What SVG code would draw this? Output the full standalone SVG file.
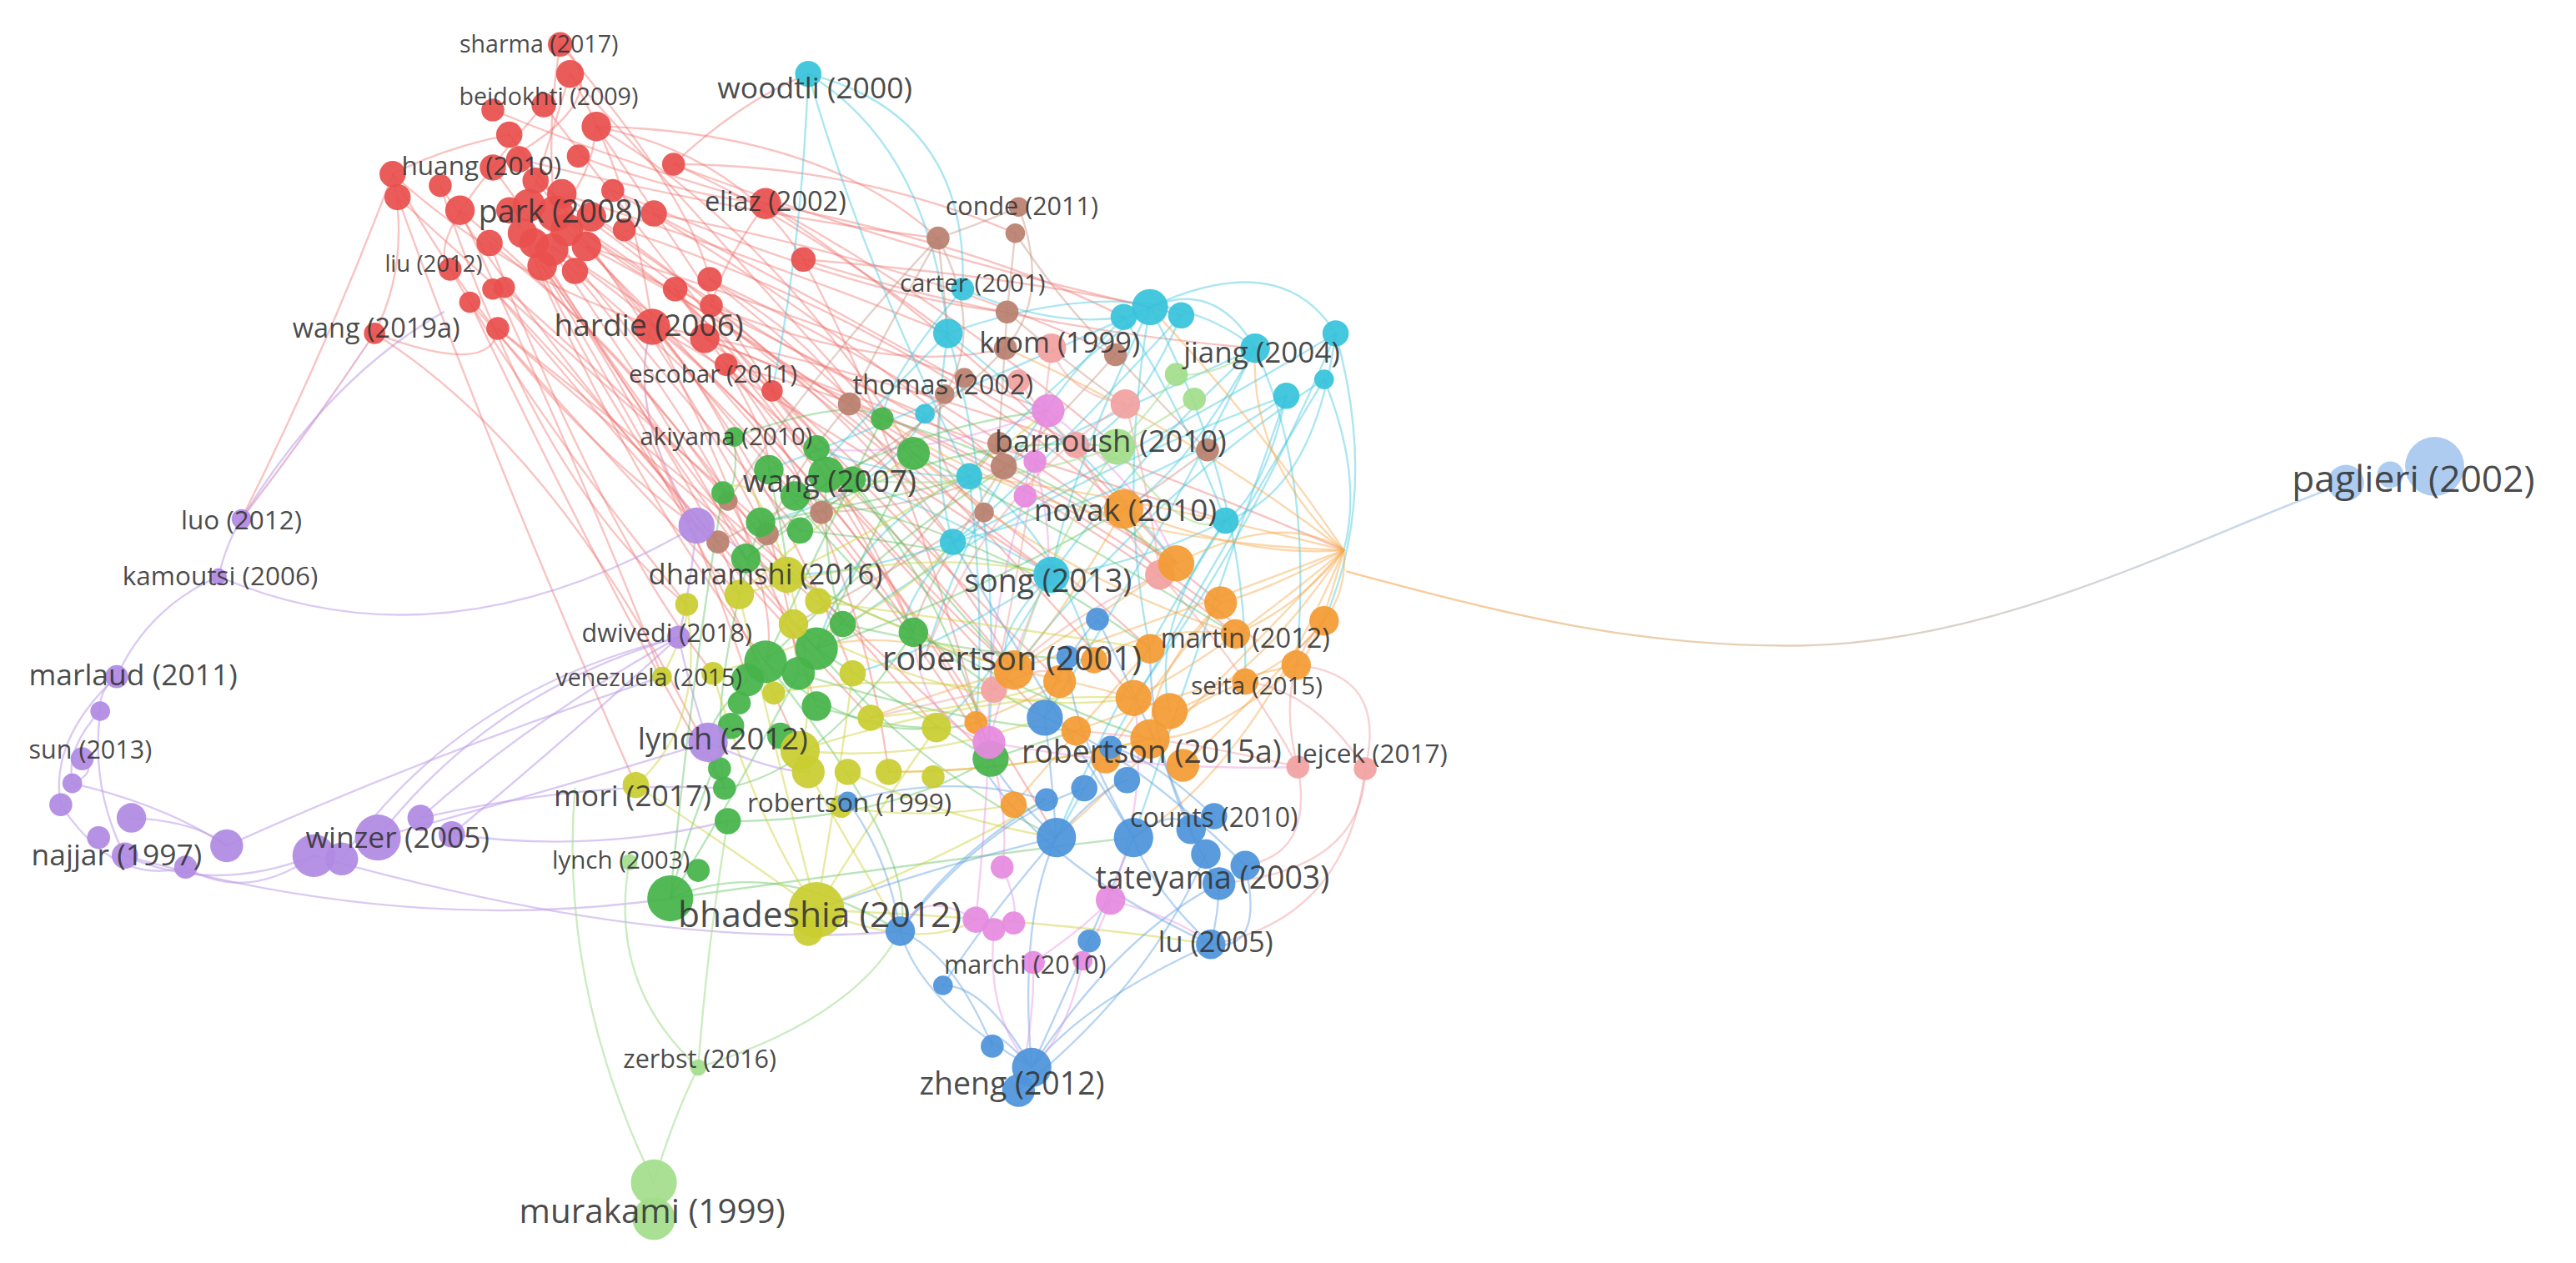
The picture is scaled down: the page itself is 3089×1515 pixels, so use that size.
<svg xmlns="http://www.w3.org/2000/svg" width="3089" height="1515" viewBox="0 0 3089 1515">
<style>
.e path{fill:none;stroke-width:1.2;stroke-linecap:round}
.er path{stroke:#ee6f6b;stroke-opacity:.42}
.erp{stroke:#d68fb6 !important;stroke-opacity:.6 !important}
.ec path{stroke:#45c8de;stroke-opacity:.45}
.eb path{stroke:#c0907f;stroke-opacity:.42}
.es path{stroke:#f2a3a3;stroke-opacity:.5}
.eg path{stroke:#52bb52;stroke-opacity:.4}
.ey path{stroke:#cfd23c;stroke-opacity:.48}
.eo path{stroke:#f6a84c;stroke-opacity:.45}
.eu path{stroke:#5f9fe0;stroke-opacity:.45}
.ek path{stroke:#e794df;stroke-opacity:.45}
.ep path{stroke:#bb9ce8;stroke-opacity:.55}
.el path{stroke:#a8e098;stroke-opacity:.6}
.n circle{fill-opacity:.93}
.red circle{fill:#e8504d}
.cyan circle{fill:#37c3dc}
.brown circle{fill:#b9806f}
.green circle{fill:#45b449}
.lgreen circle{fill:#a2de8c}
.purple circle{fill:#b08ae3}
.yellow circle{fill:#c9cd30}
.orange circle{fill:#f39b34}
.blue circle{fill:#4c93da}
.pink circle{fill:#e68ae0}
.salmon circle{fill:#f2a1a1}
.pale circle{fill:#a8c8ee}
text{font-family:"Open Sans","Liberation Sans",sans-serif;fill:#333;fill-opacity:.9;dominant-baseline:central;text-anchor:middle}
</style>
<defs>
<linearGradient id="gp" gradientUnits="userSpaceOnUse" x1="820" y1="350" x2="1428" y2="294">
<stop offset="0" stop-color="#f6a84c" stop-opacity=".6"/>
<stop offset="1" stop-color="#a8c8ee" stop-opacity=".7"/>
</linearGradient>
</defs>
<rect width="3089" height="1515" fill="#fff"/>
<g transform="scale(1.97)">
<g id="connectors" class="e">
<g class="er">
<path d="M341 27 Q332 80 338 130"/><path d="M347 45 Q385 110 397 198"/><path d="M363 77 Q420 160 470 238"/><path d="M363 77 Q470 140 556 276"/>
<path d="M338 130 Q430 180 519 292"/><path d="M338 130 Q470 220 590 290"/><path d="M280 128 Q390 220 479 350"/><path d="M336 150 Q470 230 617 408"/>
<path d="M357 150 Q480 190 638 250"/><path d="M330 162 Q410 270 455 414"/><path d="M318 142 Q370 250 424 320"/><path d="M239 106 Q310 170 397 198"/>
<path d="M242 120 Q340 210 463 318"/><path d="M268 113 Q350 240 497 395"/><path d="M410 100 Q480 130 577 203"/><path d="M410 100 Q540 150 700 187"/>
<path d="M466 124 Q570 180 680 272"/><path d="M466 124 Q610 220 716 343"/><path d="M489 158 Q620 200 764 212"/><path d="M432 170 Q560 270 690 425"/>
<path d="M411 176 Q500 270 556 385"/><path d="M397 198 Q520 270 640 350"/><path d="M397 198 Q600 240 818 335"/><path d="M429 206 Q560 300 617 408"/>
<path d="M429 206 Q560 260 746 317"/><path d="M442 222 Q520 320 541 470"/><path d="M300 176 Q370 250 437 330"/><path d="M286 184 Q380 290 450 362"/>
<path d="M228 203 Q350 280 441 480"/><path d="M303 200 Q420 300 513 380"/><path d="M310 82 Q360 160 411 176"/><path d="M300 67 Q380 100 466 124"/>
<path d="M316 97 Q450 130 571 145"/><path d="M363 77 Q450 95 489 158"/><path d="M373 116 Q500 190 612 285"/><path d="M398 130 Q530 200 655 271"/>
<path d="M357 150 Q530 240 700 395"/><path d="M342 118 Q470 160 577 203"/><path d="M318 142 Q380 290 466 403"/><path d="M489 158 Q550 270 603 462"/>
<path d="M433 186 Q540 230 612 212"/><path d="M298 148 Q380 210 440 300"/><path d="M352 95 Q420 120 462 123"/><path d="M300 102 Q260 150 274 164"/>
<path d="M274 164 Q330 260 418 368"/><path d="M228 203 Q300 230 303 200"/><path d="M239 106 Q250 160 228 203"/><path d="M397 198 Q470 280 486 410"/>
<path d="M432 170 Q500 210 517 246"/><path d="M470 238 Q520 300 556 385"/><path d="M411 176 Q470 260 468 286"/><path d="M442 222 Q600 260 765 390"/>
<path d="M336 150 Q500 260 643 510"/><path d="M397 198 Q520 300 602 452"/><path d="M410 100 Q450 62 492 45"/><path d="M300 102 Q380 60 341 27"/>
<path d="M331 64 Q300 100 300 102"/><path d="M310 82 Q270 90 239 106"/><path d="M363 77 Q360 110 338 130"/><path d="M466 124 Q440 160 433 186"/>
<path d="M347 45 Q450 160 537 255"/><path d="M331 64 Q420 180 497 273"/><path d="M310 82 Q400 200 463 318"/><path d="M316 97 Q420 230 484 302"/>
<path d="M300 102 Q400 240 454 340"/><path d="M322 125 Q420 250 487 323"/><path d="M342 118 Q480 210 580 330"/><path d="M360 132 Q480 220 563 252"/>
<path d="M373 116 Q520 180 613 190"/><path d="M398 130 Q560 160 679 216"/><path d="M336 150 Q450 280 497 430"/><path d="M357 150 Q460 260 519 410"/>
<path d="M330 162 Q430 300 450 362"/><path d="M318 142 Q430 330 487 457"/><path d="M298 148 Q370 330 434 410"/><path d="M280 128 Q360 300 403 412"/>
<path d="M268 113 Q330 300 418 368"/><path d="M242 120 Q300 280 387 478"/><path d="M239 106 Q320 250 437 330"/><path d="M300 176 Q420 320 530 437"/>
<path d="M307 175 Q450 300 570 443"/><path d="M286 184 Q380 380 441 480"/><path d="M303 200 Q470 330 603 462"/><path d="M411 176 Q560 250 716 343"/>
<path d="M432 170 Q600 250 743 367"/><path d="M429 206 Q620 280 752 386"/><path d="M466 124 Q600 150 684 193"/><path d="M489 158 Q640 170 719 192"/>
<path d="M410 100 Q520 100 618 142"/><path d="M363 77 Q500 80 571 145"/><path d="M470 238 Q560 330 645 415"/><path d="M442 222 Q560 360 636 437"/>
<path d="M397 198 Q480 360 466 403"/><path d="M433 186 Q560 290 640 350"/><path d="M411 176 Q530 330 617 408"/><path d="M341 27 Q420 120 432 170"/>
<path d="M347 45 Q330 100 322 125"/><path d="M326 110 Q450 200 568 300"/><path d="M345 140 Q470 260 556 385"/><path d="M310 128 Q410 280 480 362"/>
<path d="M325 148 Q440 330 497 395"/><path d="M350 165 Q500 290 603 462"/><path d="M380 140 Q560 200 684 310"/><path d="M239 106 Q200 210 147 316"/>
<path class="erp" d="M228 203 Q190 260 147 316"/><path class="erp" d="M424 320 Q380 250 397 198"/>
</g>
<g class="ec">
<path d="M492 45 Q488 150 470 238"/><path d="M492 45 Q565 90 577 203"/><path d="M492 45 Q525 160 590 290"/><path d="M492 45 Q590 70 586 176"/>
<path d="M700 187 Q620 250 590 290"/><path d="M700 187 Q650 290 640 350"/><path d="M764 212 Q690 280 640 350"/><path d="M764 212 Q700 340 636 437"/>
<path d="M813 203 Q760 330 690 425"/><path d="M813 203 Q800 300 746 317"/><path d="M806 231 Q740 340 643 510"/><path d="M783 241 Q700 300 580 330"/>
<path d="M783 241 Q770 300 746 317"/><path d="M684 193 Q600 280 563 400"/><path d="M719 192 Q690 260 655 271"/><path d="M577 203 Q565 280 580 330"/>
<path d="M577 203 Q520 260 484 302"/><path d="M577 203 Q650 260 716 343"/><path d="M746 317 Q690 345 640 350"/><path d="M580 330 Q520 350 479 350"/>
<path d="M590 290 Q540 290 497 273"/><path d="M640 350 Q600 390 617 408"/><path d="M813 203 Q780 150 700 187"/><path d="M764 212 Q740 170 700 187"/>
<path d="M586 176 Q640 200 684 193"/><path d="M783 241 Q720 420 690 510"/><path d="M700 187 Q560 250 468 286"/><path d="M640 350 Q570 310 519 292"/>
<path d="M806 231 Q830 290 818 335"/><path d="M764 212 Q720 290 684 310"/><path d="M684 193 Q720 250 746 317"/><path d="M586 176 Q540 230 537 255"/>
<path d="M577 203 Q610 320 602 452"/><path d="M700 187 Q680 300 700 395"/><path d="M813 203 Q720 260 580 330"/><path d="M783 241 Q620 300 497 395"/>
<path d="M746 317 Q700 380 712 433"/><path d="M590 290 Q600 380 594 440"/><path d="M577 203 Q700 160 764 212"/><path d="M813 203 Q840 300 806 378"/>
<path d="M764 212 Q800 290 789 405"/><path d="M700 187 Q760 300 758 415"/><path d="M590 290 Q520 320 497 395"/><path d="M580 330 Q540 380 556 385"/>
<path d="M640 350 Q560 400 519 410"/><path d="M590 290 Q640 320 666 402"/><path d="M806 231 Q700 300 617 408"/><path d="M719 192 Q620 300 580 330"/>
<path d="M764 212 Q660 260 611 284"/><path d="M563 252 Q540 300 463 318"/><path d="M640 350 Q600 420 570 443"/><path d="M746 317 Q680 420 643 510"/>
</g>
<g class="eb">
<path d="M571 145 Q575 180 577 203"/><path d="M618 142 Q615 170 613 190"/><path d="M571 145 Q540 200 517 246"/><path d="M618 142 Q650 190 679 216"/>
<path d="M613 190 Q610 240 608 270"/><path d="M679 216 Q640 260 612 285"/><path d="M517 246 Q480 290 467 325"/><path d="M587 230 Q540 280 500 312"/>
<path d="M612 285 Q560 310 500 312"/><path d="M571 145 Q500 220 443 305"/><path d="M612 212 Q560 270 437 330"/><path d="M679 216 Q710 250 735 274"/>
<path d="M620 126 Q600 135 571 145"/><path d="M575 240 Q560 280 599 312"/><path d="M735 274 Q700 300 684 310"/><path d="M608 270 Q560 330 497 395"/>
<path d="M613 190 Q660 230 685 246"/><path d="M620 126 Q640 180 612 212"/><path d="M571 145 Q600 200 575 240"/><path d="M611 284 Q560 360 556 385"/>
<path d="M599 312 Q540 350 483 380"/><path d="M517 246 Q560 300 580 330"/>
</g>
<g class="es">
<path d="M790 467 Q775 410 806 378"/><path d="M831 468 Q845 410 789 405"/><path d="M790 467 Q800 520 758 527"/><path d="M831 468 Q830 530 742 538"/>
<path d="M685 246 Q700 300 706 350"/><path d="M706 350 Q760 410 790 467"/><path d="M655 271 Q680 320 706 350"/><path d="M640 212 Q650 240 685 246"/>
<path d="M620 232 Q640 260 655 271"/><path d="M605 420 Q640 400 645 415"/><path d="M605 420 Q560 430 530 437"/><path d="M640 212 Q630 300 605 420"/>
<path d="M790 467 Q720 450 655 445"/><path d="M831 468 Q820 560 737 575"/><path d="M831 468 Q800 420 758 415"/><path d="M685 246 Q600 300 563 400"/>
<path d="M706 350 Q640 380 605 420"/>
</g>
<g class="eg">
<path d="M537 255 Q500 330 466 403"/><path d="M556 276 Q520 350 497 395"/><path d="M468 286 Q480 340 479 350"/><path d="M497 273 Q570 340 603 462"/>
<path d="M454 340 Q520 370 556 385"/><path d="M497 395 Q550 430 603 462"/><path d="M463 318 Q430 420 441 480"/><path d="M440 300 Q420 420 408 547"/>
<path d="M486 410 Q450 480 408 547"/><path d="M556 385 Q500 470 441 480"/><path d="M603 462 Q540 500 443 500"/><path d="M466 403 Q520 450 570 443"/>
<path d="M519 292 Q570 360 617 408"/><path d="M484 302 Q600 320 700 395"/><path d="M537 255 Q630 280 716 343"/><path d="M445 442 Q420 500 408 547"/>
<path d="M556 276 Q660 330 752 386"/><path d="M468 286 Q560 400 636 437"/><path d="M505 292 Q560 260 638 250"/><path d="M505 292 Q470 330 454 340"/>
<path d="M447 266 Q450 300 440 300"/><path d="M503 289 Q500 340 513 380"/><path d="M497 430 Q560 450 594 440"/><path d="M455 414 Q430 440 431 452"/>
<path d="M603 462 Q640 450 655 445"/><path d="M408 547 Q470 520 548 567"/><path d="M408 547 Q600 520 690 510"/><path d="M497 395 Q600 360 684 310"/>
<path d="M466 403 Q540 330 612 285"/><path d="M454 340 Q560 260 680 272"/><path d="M556 385 Q640 430 700 450"/><path d="M447 266 Q520 240 537 255"/>
<path d="M487 323 Q560 330 640 350"/><path d="M463 318 Q560 300 590 290"/><path d="M497 395 Q560 470 643 510"/><path d="M466 403 Q560 520 548 567"/>
<path d="M513 380 Q600 400 666 402"/><path d="M486 410 Q580 440 655 445"/>
</g>
<g class="ey">
<path d="M479 350 Q500 420 487 457"/><path d="M450 362 Q470 450 497 554"/><path d="M434 410 Q460 500 497 554"/><path d="M519 410 Q510 480 497 554"/>
<path d="M570 443 Q530 500 497 554"/><path d="M387 478 Q450 520 497 554"/><path d="M479 350 Q560 390 617 408"/><path d="M418 368 Q430 440 387 478"/>
<path d="M530 437 Q600 430 645 415"/><path d="M487 457 Q560 465 636 437"/><path d="M516 470 Q580 500 643 510"/><path d="M498 366 Q600 380 700 395"/>
<path d="M483 380 Q600 440 690 425"/><path d="M541 470 Q620 470 700 450"/><path d="M479 350 Q460 280 440 300"/><path d="M450 362 Q520 300 556 276"/>
<path d="M403 412 Q420 380 418 368"/><path d="M492 470 Q520 520 548 567"/><path d="M497 554 Q560 580 594 560"/><path d="M497 554 Q580 520 636 487"/>
<path d="M471 422 Q540 410 605 420"/><path d="M512 491 Q560 500 617 490"/><path d="M497 554 Q640 560 737 575"/><path d="M479 350 Q580 300 638 250"/>
<path d="M450 362 Q560 330 640 350"/><path d="M487 457 Q600 420 690 425"/><path d="M434 410 Q540 380 580 330"/>
</g>
<g class="eo">
<path d="M818 335 Q770 360 743 367"/><path d="M818 335 Q790 370 752 386"/><path d="M818 335 Q800 400 789 405"/><path d="M818 335 Q760 420 712 433"/>
<path d="M818 335 Q740 400 690 425"/><path d="M818 335 Q700 380 617 408"/><path d="M818 335 Q780 310 716 343"/><path d="M716 343 Q660 380 617 408"/>
<path d="M743 367 Q700 410 700 450"/><path d="M806 378 Q760 430 720 466"/><path d="M789 405 Q740 450 700 450"/><path d="M617 408 Q680 420 712 433"/>
<path d="M666 402 Q700 380 752 386"/><path d="M655 445 Q720 420 789 405"/><path d="M617 490 Q660 440 700 395"/><path d="M818 335 Q680 300 590 290"/>
<path d="M818 335 Q720 260 612 212"/><path d="M617 408 Q560 425 530 437"/><path d="M752 386 Q640 350 556 276"/><path d="M684 310 Q700 340 716 343"/>
<path d="M684 310 Q650 370 617 408"/><path d="M818 335 Q760 340 684 310"/><path d="M818 335 Q760 280 764 212"/><path d="M806 378 Q820 360 818 335"/>
<path d="M758 415 Q790 400 806 378"/><path d="M758 415 Q720 430 700 450"/><path d="M594 440 Q640 420 645 415"/><path d="M673 462 Q700 420 743 367"/>
<path d="M818 335 Q700 460 643 510"/><path d="M818 335 Q760 470 690 510"/><path d="M818 335 Q650 330 537 255"/><path d="M818 335 Q760 250 700 187"/>
<path d="M617 408 Q540 380 497 395"/><path d="M700 450 Q620 470 541 470"/>
</g>
<path d="M820 348 C920 375 1000 395 1100 393 C1220 390 1330 330 1428 294" stroke="url(#gp)" stroke-width="1.6"/>
<g class="eu">
<path d="M628 650 Q620 560 643 510"/><path d="M628 650 Q660 580 690 510"/><path d="M628 650 Q600 600 574 600"/><path d="M604 637 Q580 580 548 567"/>
<path d="M620 664 Q700 600 734 520"/><path d="M628 650 Q680 570 742 538"/><path d="M737 575 Q700 540 690 510"/><path d="M737 575 Q742 555 742 538"/>
<path d="M643 510 Q670 480 686 475"/><path d="M636 437 Q640 470 643 510"/><path d="M690 510 Q715 490 725 505"/><path d="M548 567 Q580 520 636 487"/>
<path d="M548 567 Q600 500 660 480"/><path d="M636 437 Q690 460 758 527"/><path d="M668 377 Q640 410 636 437"/><path d="M628 650 Q560 610 548 567"/>
<path d="M574 600 Q600 560 643 510"/><path d="M737 575 Q660 610 628 650"/><path d="M690 510 Q650 440 650 400"/><path d="M725 505 Q700 440 668 377"/>
<path d="M739 497 Q700 460 676 455"/><path d="M643 510 Q600 470 594 440"/><path d="M516 488 Q580 470 636 487"/><path d="M548 567 Q540 520 516 488"/>
<path d="M758 527 Q770 580 737 575"/><path d="M604 637 Q600 620 628 650"/><path d="M643 510 Q560 530 497 554"/><path d="M737 575 Q640 530 600 470"/>
<path d="M690 510 Q640 430 580 330"/><path d="M742 538 Q700 470 700 395"/>
</g>
<g class="ek">
<path d="M638 250 Q625 280 624 302"/><path d="M602 452 Q615 500 610 528"/><path d="M594 560 Q600 500 602 452"/><path d="M629 586 Q660 565 676 548"/>
<path d="M659 585 Q670 565 676 548"/><path d="M638 350 Q615 400 602 452"/><path d="M624 302 Q600 380 602 452"/><path d="M610 528 Q620 550 617 562"/>
<path d="M602 452 Q700 470 790 467"/><path d="M638 250 Q700 300 716 343"/><path d="M630 281 Q640 320 638 350"/><path d="M676 548 Q700 480 690 425"/>
<path d="M605 566 Q600 620 628 650"/><path d="M629 586 Q630 620 620 664"/><path d="M659 585 Q650 630 628 650"/><path d="M602 452 Q560 440 556 385"/>
<path d="M594 560 Q560 540 548 567"/><path d="M676 548 Q720 560 737 575"/><path d="M638 250 Q560 280 497 273"/>
</g>
<g class="ep">
<path d="M424 320 Q270 410 133 351"/><path d="M147 316 Q138 330 133 351"/><path d="M133 351 Q90 370 71 412"/><path d="M71 412 Q60 420 61 433"/>
<path d="M61 433 Q40 455 44 477"/><path d="M71 412 Q30 450 37 490"/><path d="M61 433 Q55 480 76 521"/><path d="M413 388 Q300 420 230 510"/>
<path d="M413 388 Q320 440 256 498"/><path d="M413 388 Q345 450 275 508"/><path d="M413 388 Q280 420 208 523"/><path d="M80 498 Q120 500 138 515"/>
<path d="M76 521 Q130 545 191 521"/><path d="M113 528 Q150 550 191 521"/><path d="M44 477 Q100 490 138 515"/><path d="M230 510 Q340 480 431 452"/>
<path d="M256 498 Q360 475 441 480"/><path d="M191 521 Q400 580 548 567"/><path d="M76 521 Q250 570 408 547"/><path d="M138 515 Q260 460 403 412"/>
<path d="M431 452 Q420 420 413 388"/><path d="M424 320 Q420 360 413 388"/><path d="M37 490 Q70 540 113 528"/><path d="M275 508 Q360 520 443 500"/>
<path d="M50 462 Q60 470 44 477"/><path d="M424 320 Q450 330 454 340"/><path d="M431 452 Q470 470 492 470"/><path d="M147 316 Q200 230 270 190"/>
</g>
<g class="el">
<path d="M398 720 Q410 680 425 650"/><path d="M425 650 Q430 580 443 500"/><path d="M425 650 Q370 600 383 525"/><path d="M716 228 Q700 250 680 272"/>
<path d="M727 243 Q700 260 680 272"/><path d="M680 272 Q640 330 617 408"/><path d="M680 272 Q720 330 746 317"/><path d="M716 228 Q740 230 764 212"/>
<path d="M398 720 Q340 600 350 480"/><path d="M425 650 Q520 620 548 567"/><path d="M680 272 Q600 300 519 292"/>
</g>
</g>
<g id="nodes">
<g id="r2" class="n red"><circle cx="347" cy="45" r="8.5"/></g>
<g id="r3" class="n red"><circle cx="300" cy="67" r="7"/></g>
<g id="r5" class="n red"><circle cx="363" cy="77" r="9"/></g>
<g id="r6" class="n red"><circle cx="310" cy="82" r="8"/></g>
<g id="r7" class="n red"><circle cx="316" cy="97" r="8"/></g>
<g id="r8" class="n red"><circle cx="239" cy="106" r="8"/></g>
<g id="r9" class="n red"><circle cx="242" cy="120" r="8"/></g>
<g id="r10" class="n red"><circle cx="268" cy="113" r="7"/></g>
<g id="r11" class="n red"><circle cx="410" cy="100" r="7"/></g>
<g id="r12" class="n red"><circle cx="280" cy="128" r="9"/></g>
<g id="r40" class="n red"><circle cx="326" cy="110" r="8"/></g>
<g id="r41" class="n red"><circle cx="310" cy="128" r="8"/></g>
<g id="r14" class="n red"><circle cx="322" cy="125" r="10"/></g>
<g id="r15" class="n red"><circle cx="342" cy="118" r="9"/></g>
<g id="r16" class="n red"><circle cx="360" cy="132" r="9"/></g>
<g id="r17" class="n red"><circle cx="373" cy="116" r="7"/></g>
<g id="r18" class="n red"><circle cx="398" cy="130" r="8"/></g>
<g id="r19" class="n red"><circle cx="318" cy="142" r="9"/></g>
<g id="r42" class="n red"><circle cx="345" cy="140" r="10"/></g>
<g id="r43" class="n red"><circle cx="325" cy="148" r="9"/></g>
<g id="r20" class="n red"><circle cx="336" cy="152" r="10"/></g>
<g id="r21" class="n red"><circle cx="357" cy="150" r="9"/></g>
<g id="r44" class="n red"><circle cx="350" cy="165" r="8"/></g>
<g id="r22" class="n red"><circle cx="330" cy="162" r="9"/></g>
<g id="r23" class="n red"><circle cx="298" cy="148" r="8"/></g>
<g id="r45" class="n red"><circle cx="380" cy="140" r="7"/></g>
<g id="r25" class="n red"><circle cx="489" cy="158" r="7.5"/></g>
<g id="r26" class="n red"><circle cx="432" cy="170" r="7.5"/></g>
<g id="r27" class="n red"><circle cx="411" cy="176" r="7.5"/></g>
<g id="r28" class="n red"><circle cx="300" cy="176" r="6.5"/></g>
<g id="r29" class="n red"><circle cx="286" cy="184" r="6.5"/></g>
<g id="r30" class="n red"><circle cx="307" cy="175" r="6.5"/></g>
<g id="r32" class="n red"><circle cx="303" cy="200" r="7"/></g>
<g id="r34" class="n red"><circle cx="429" cy="206" r="9"/></g>
<g id="r36" class="n red"><circle cx="470" cy="238" r="6.5"/></g>
<g id="r37" class="n red"><circle cx="433" cy="186" r="7"/></g>
<g id="r39" class="n red"><circle cx="352" cy="95" r="7"/></g>
<g id="c3" class="n cyan"><circle cx="577" cy="203" r="9"/></g>
<g id="c4" class="n cyan"><circle cx="700" cy="187" r="11"/></g>
<g id="c5" class="n cyan"><circle cx="684" cy="193" r="8"/></g>
<g id="c6" class="n cyan"><circle cx="719" cy="192" r="8"/></g>
<g id="c8" class="n cyan"><circle cx="813" cy="203" r="8"/></g>
<g id="c9" class="n cyan"><circle cx="806" cy="231" r="6"/></g>
<g id="c10" class="n cyan"><circle cx="783" cy="241" r="8"/></g>
<g id="c11" class="n cyan"><circle cx="590" cy="290" r="8"/></g>
<g id="c12" class="n cyan"><circle cx="580" cy="330" r="8"/></g>
<g id="c14" class="n cyan"><circle cx="746" cy="317" r="8"/></g>
<g id="c15" class="n cyan"><circle cx="563" cy="252" r="6"/></g>
<g id="b1" class="n brown"><circle cx="571" cy="145" r="7"/></g>
<g id="b3" class="n brown"><circle cx="618" cy="142" r="6"/></g>
<g id="b4" class="n brown"><circle cx="613" cy="190" r="7"/></g>
<g id="b5" class="n brown"><circle cx="612" cy="212" r="7"/></g>
<g id="b6" class="n brown"><circle cx="679" cy="216" r="7"/></g>
<g id="b7" class="n brown"><circle cx="517" cy="246" r="7"/></g>
<g id="b8" class="n brown"><circle cx="587" cy="230" r="6"/></g>
<g id="b9" class="n brown"><circle cx="608" cy="270" r="7"/></g>
<g id="b10" class="n brown"><circle cx="611" cy="284" r="8"/></g>
<g id="b11" class="n brown"><circle cx="599" cy="312" r="6"/></g>
<g id="b12" class="n brown"><circle cx="437" cy="330" r="7"/></g>
<g id="b13" class="n brown"><circle cx="467" cy="325" r="7"/></g>
<g id="b14" class="n brown"><circle cx="500" cy="312" r="7"/></g>
<g id="b15" class="n brown"><circle cx="443" cy="305" r="6"/></g>
<g id="b16" class="n brown"><circle cx="735" cy="274" r="7"/></g>
<g id="s1" class="n salmon"><circle cx="685" cy="246" r="9"/></g>
<g id="s2" class="n salmon"><circle cx="620" cy="232" r="7"/></g>
<g id="s3" class="n salmon"><circle cx="655" cy="271" r="8"/></g>
<g id="s4" class="n salmon"><circle cx="706" cy="350" r="9"/></g>
<g id="s5" class="n salmon"><circle cx="605" cy="420" r="8"/></g>
<g id="s6" class="n salmon"><circle cx="790" cy="467" r="7"/></g>
<g id="lg1" class="n lgreen"><circle cx="716" cy="228" r="7"/></g>
<g id="lg2" class="n lgreen"><circle cx="727" cy="243" r="7"/></g>
<g id="lg5" class="n lgreen"><circle cx="398" cy="742" r="13"/></g>
<g id="g1" class="n green"><circle cx="537" cy="255" r="7"/></g>
<g id="g2" class="n green"><circle cx="556" cy="276" r="10"/></g>
<g id="g3" class="n green"><circle cx="497" cy="273" r="8"/></g>
<g id="g4" class="n green"><circle cx="468" cy="286" r="9"/></g>
<g id="g5" class="n green"><circle cx="519" cy="292" r="8"/></g>
<g id="g6" class="n green"><circle cx="484" cy="302" r="9"/></g>
<g id="g7" class="n green"><circle cx="440" cy="300" r="7"/></g>
<g id="g8" class="n green"><circle cx="463" cy="318" r="9"/></g>
<g id="g9" class="n green"><circle cx="487" cy="323" r="8"/></g>
<g id="g10" class="n green"><circle cx="454" cy="340" r="9"/></g>
<g id="g11" class="n green"><circle cx="497" cy="395" r="13"/></g>
<g id="g12" class="n green"><circle cx="466" cy="403" r="13"/></g>
<g id="g13" class="n green"><circle cx="455" cy="414" r="10"/></g>
<g id="g14" class="n green"><circle cx="486" cy="410" r="10"/></g>
<g id="g15" class="n green"><circle cx="513" cy="380" r="8"/></g>
<g id="g16" class="n green"><circle cx="556" cy="385" r="9"/></g>
<g id="g17" class="n green"><circle cx="450" cy="428" r="7"/></g>
<g id="g18" class="n green"><circle cx="497" cy="430" r="9"/></g>
<g id="g19" class="n green"><circle cx="445" cy="442" r="8"/></g>
<g id="g20" class="n green"><circle cx="475" cy="448" r="8"/></g>
<g id="g21" class="n green"><circle cx="603" cy="462" r="11"/></g>
<g id="g22" class="n green"><circle cx="441" cy="480" r="7"/></g>
<g id="g23" class="n green"><circle cx="443" cy="500" r="8"/></g>
<g id="g24" class="n green"><circle cx="408" cy="547" r="14"/></g>
<g id="g25" class="n green"><circle cx="425" cy="530" r="7"/></g>
<g id="g26" class="n green"><circle cx="438" cy="468" r="7"/></g>
<g id="p1" class="n purple"><circle cx="424" cy="320" r="11"/></g>
<g id="p6" class="n purple"><circle cx="61" cy="433" r="6"/></g>
<g id="p7" class="n purple"><circle cx="44" cy="477" r="6"/></g>
<g id="p8" class="n purple"><circle cx="37" cy="490" r="7"/></g>
<g id="p9" class="n purple"><circle cx="80" cy="498" r="9"/></g>
<g id="p10" class="n purple"><circle cx="138" cy="515" r="10"/></g>
<g id="p12" class="n purple"><circle cx="60" cy="510" r="7"/></g>
<g id="p13" class="n purple"><circle cx="113" cy="528" r="7"/></g>
<g id="p14" class="n purple"><circle cx="191" cy="521" r="13"/></g>
<g id="p16" class="n purple"><circle cx="208" cy="523" r="10"/></g>
<g id="p17" class="n purple"><circle cx="256" cy="498" r="8"/></g>
<g id="p18" class="n purple"><circle cx="275" cy="508" r="8"/></g>
<g id="y1" class="n yellow"><circle cx="450" cy="362" r="9"/></g>
<g id="y3" class="n yellow"><circle cx="483" cy="380" r="9"/></g>
<g id="y4" class="n yellow"><circle cx="418" cy="368" r="7"/></g>
<g id="y5" class="n yellow"><circle cx="498" cy="366" r="8"/></g>
<g id="y6" class="n yellow"><circle cx="519" cy="410" r="8"/></g>
<g id="y7" class="n yellow"><circle cx="434" cy="410" r="7"/></g>
<g id="y8" class="n yellow"><circle cx="471" cy="422" r="7"/></g>
<g id="y9" class="n yellow"><circle cx="530" cy="437" r="8"/></g>
<g id="y10" class="n yellow"><circle cx="570" cy="443" r="9"/></g>
<g id="y11" class="n yellow"><circle cx="487" cy="457" r="12"/></g>
<g id="y12" class="n yellow"><circle cx="492" cy="470" r="10"/></g>
<g id="y13" class="n yellow"><circle cx="516" cy="470" r="8"/></g>
<g id="y14" class="n yellow"><circle cx="541" cy="470" r="8"/></g>
<g id="y16" class="n yellow"><circle cx="512" cy="491" r="7"/></g>
<g id="y18" class="n yellow"><circle cx="492" cy="567" r="9"/></g>
<g id="y19" class="n yellow"><circle cx="568" cy="473" r="7"/></g>
<g id="o2" class="n orange"><circle cx="716" cy="343" r="11"/></g>
<g id="o3" class="n orange"><circle cx="743" cy="367" r="10"/></g>
<g id="o6" class="n orange"><circle cx="645" cy="415" r="10"/></g>
<g id="o7" class="n orange"><circle cx="666" cy="402" r="8"/></g>
<g id="o8" class="n orange"><circle cx="690" cy="425" r="11"/></g>
<g id="o9" class="n orange"><circle cx="712" cy="433" r="11"/></g>
<g id="o10" class="n orange"><circle cx="700" cy="395" r="9"/></g>
<g id="o11" class="n orange"><circle cx="789" cy="405" r="9"/></g>
<g id="o12" class="n orange"><circle cx="806" cy="378" r="9"/></g>
<g id="o14" class="n orange"><circle cx="655" cy="445" r="9"/></g>
<g id="o16" class="n orange"><circle cx="720" cy="466" r="10"/></g>
<g id="o17" class="n orange"><circle cx="617" cy="490" r="8"/></g>
<g id="o18" class="n orange"><circle cx="594" cy="440" r="7"/></g>
<g id="o19" class="n orange"><circle cx="673" cy="462" r="9"/></g>
<g id="u1" class="n blue"><circle cx="668" cy="377" r="7"/></g>
<g id="u2" class="n blue"><circle cx="636" cy="437" r="11"/></g>
<g id="u3" class="n blue"><circle cx="643" cy="510" r="12"/></g>
<g id="u4" class="n blue"><circle cx="690" cy="510" r="12"/></g>
<g id="u5" class="n blue"><circle cx="660" cy="480" r="8"/></g>
<g id="u6" class="n blue"><circle cx="637" cy="487" r="7"/></g>
<g id="u7" class="n blue"><circle cx="686" cy="475" r="8"/></g>
<g id="u8" class="n blue"><circle cx="725" cy="505" r="9"/></g>
<g id="u9" class="n blue"><circle cx="734" cy="520" r="9"/></g>
<g id="u10" class="n blue"><circle cx="758" cy="527" r="9"/></g>
<g id="u13" class="n blue"><circle cx="548" cy="567" r="9"/></g>
<g id="u14" class="n blue"><circle cx="574" cy="600" r="6"/></g>
<g id="u15" class="n blue"><circle cx="604" cy="637" r="7"/></g>
<g id="u17" class="n blue"><circle cx="620" cy="664" r="10"/></g>
<g id="u18" class="n blue"><circle cx="663" cy="573" r="7"/></g>
<g id="u20" class="n blue"><circle cx="650" cy="400" r="7"/></g>
<g id="u21" class="n blue"><circle cx="676" cy="455" r="7"/></g>
<g id="k1" class="n pink"><circle cx="638" cy="250" r="10"/></g>
<g id="k2" class="n pink"><circle cx="624" cy="302" r="7"/></g>
<g id="k3" class="n pink"><circle cx="638" cy="350" r="7"/></g>
<g id="k4" class="n pink"><circle cx="602" cy="452" r="10"/></g>
<g id="k5" class="n pink"><circle cx="610" cy="528" r="7"/></g>
<g id="k6" class="n pink"><circle cx="676" cy="548" r="9"/></g>
<g id="k7" class="n pink"><circle cx="594" cy="560" r="8"/></g>
<g id="k8" class="n pink"><circle cx="605" cy="566" r="7"/></g>
<g id="k9" class="n pink"><circle cx="617" cy="562" r="7"/></g>
<g id="k11" class="n pink"><circle cx="659" cy="585" r="6"/></g>
<g id="k12" class="n pink"><circle cx="630" cy="281" r="7"/></g>
<g id="a1" class="n pale"><circle cx="1428" cy="294" r="11"/></g>
<g id="a2" class="n pale"><circle cx="1455" cy="289" r="8"/></g>

<g id="sharma-2017" class="n red"><circle cx="341" cy="27" r="7.5"/><text x="328" y="26" font-size="14.5">sharma (2017)</text></g>
<g id="beidokhti-2009" class="n red"><circle cx="331" cy="64" r="7.5"/><text x="334" y="58" font-size="14.5">beidokhti (2009)</text></g>
<g id="woodtli-2000" class="n cyan"><circle cx="492" cy="45" r="8"/><text x="496" y="53" font-size="18">woodtli (2000)</text></g>
<g id="huang-2010" class="n red"><circle cx="300" cy="102" r="8"/><text x="293" y="100" font-size="16">huang (2010)</text></g>
<g id="park-2008" class="n red"><circle cx="338" cy="130" r="11"/><text x="341" y="128" font-size="19">park (2008)</text></g>
<g id="eliaz-2002" class="n red"><circle cx="466" cy="124" r="9.5"/><text x="472" y="122" font-size="16.5">eliaz (2002)</text></g>
<g id="conde-2011" class="n brown"><circle cx="620" cy="126" r="6"/><text x="622" y="125" font-size="15.5">conde (2011)</text></g>
<g id="liu-2012" class="n red"><circle cx="274" cy="164" r="7"/><text x="264" y="160" font-size="14">liu (2012)</text></g>
<g id="carter-2001" class="n cyan"><circle cx="586" cy="176" r="7"/><text x="592" y="172" font-size="15">carter (2001)</text></g>
<g id="wang-2019a" class="n red"><circle cx="228" cy="203" r="6.5"/><text x="229" y="199" font-size="16.5">wang (2019a)</text></g>
<g id="hardie-2006" class="n red"><circle cx="397" cy="199" r="11"/><text x="395" y="197" font-size="18.8">hardie (2006)</text></g>
<g id="krom-1999" class="n salmon"><circle cx="640" cy="212" r="9"/><text x="645" y="208" font-size="17.5">krom (1999)</text></g>
<g id="jiang-2004" class="n cyan"><circle cx="764" cy="212" r="9"/><text x="768" y="214" font-size="17.8">jiang (2004)</text></g>
<g id="escobar-2011" class="n red"><circle cx="442" cy="222" r="7"/><text x="434" y="227" font-size="15">escobar (2011)</text></g>
<g id="thomas-2002" class="n brown"><circle cx="575" cy="240" r="6"/><text x="574" y="234" font-size="16.5">thomas (2002)</text></g>
<g id="akiyama-2010" class="n green"><circle cx="447" cy="266" r="6"/><text x="442" y="265" font-size="15">akiyama (2010)</text></g>
<g id="barnoush-2010" class="n lgreen"><circle cx="680" cy="272" r="11"/><text x="676" y="268" font-size="18.5">barnoush (2010)</text></g>
<g id="wang-2007" class="n green"><circle cx="503" cy="289" r="11"/><text x="505" y="292" font-size="18.8">wang (2007)</text></g>
<g id="novak-2010" class="n orange"><circle cx="684" cy="310" r="12"/><text x="685" y="310" font-size="18.8">novak (2010)</text></g>
<g id="luo-2012" class="n purple"><circle cx="147" cy="316" r="6"/><text x="147" y="316" font-size="16">luo (2012)</text></g>
<g id="kamoutsi-2006" class="n purple"><circle cx="133" cy="351" r="5"/><text x="134" y="350" font-size="16">kamoutsi (2006)</text></g>
<g id="dharamshi-2016" class="n yellow"><circle cx="479" cy="350" r="11"/><text x="466" y="349" font-size="17.5">dharamshi (2016)</text></g>
<g id="song-2013" class="n cyan"><circle cx="640" cy="350" r="11"/><text x="638" y="353" font-size="19">song (2013)</text></g>
<g id="dwivedi-2018" class="n purple"><circle cx="413" cy="388" r="7"/><text x="406" y="385" font-size="15.5">dwivedi (2018)</text></g>
<g id="martin-2012" class="n orange"><circle cx="752" cy="386" r="9"/><text x="758" y="388" font-size="16.5">martin (2012)</text></g>
<g id="marlaud-2011" class="n purple"><circle cx="71" cy="412" r="7"/><text x="81" y="410" font-size="18">marlaud (2011)</text></g>
<g id="venezuela-2015" class="n yellow"><circle cx="403" cy="412" r="6"/><text x="395" y="412" font-size="14.5">venezuela (2015)</text></g>
<g id="seita-2015" class="n orange"><circle cx="758" cy="415" r="8"/><text x="765" y="417" font-size="15">seita (2015)</text></g>
<g id="robertson-2001" class="n orange"><circle cx="617" cy="408" r="12"/><text x="616" y="400" font-size="20.3">robertson (2001)</text></g>
<g id="sun-2013" class="n purple"><circle cx="50" cy="462" r="7"/><text x="55" y="456" font-size="15.5">sun (2013)</text></g>
<g id="lejcek-2017" class="n salmon"><circle cx="831" cy="468" r="7"/><text x="835" y="458" font-size="16">lejcek (2017)</text></g>
<g id="mori-2017" class="n yellow"><circle cx="387" cy="478" r="8"/><text x="385" y="484" font-size="18">mori (2017)</text></g>
<g id="robertson-1999" class="n blue"><circle cx="516" cy="488" r="6"/><text x="517" y="488" font-size="16">robertson (1999)</text></g>
<g id="counts-2010" class="n blue"><circle cx="739" cy="497" r="8"/><text x="739" y="497" font-size="16.3">counts (2010)</text></g>
<g id="najjar-1997" class="n purple"><circle cx="76" cy="521" r="8"/><text x="71" y="520" font-size="18">najjar (1997)</text></g>
<g id="winzer-2005" class="n purple"><circle cx="230" cy="510" r="14"/><text x="242" y="509" font-size="18">winzer (2005)</text></g>
<g id="lynch-2012" class="n purple"><circle cx="431" cy="452" r="12"/><text x="440" y="449" font-size="18.5">lynch (2012)</text></g>
<g id="robertson-2015a" class="n orange"><circle cx="700" cy="450" r="12"/><text x="701" y="457" font-size="19">robertson (2015a)</text></g>
<g id="tateyama-2003" class="n blue"><circle cx="742" cy="538" r="10"/><text x="738" y="534" font-size="19">tateyama (2003)</text></g>
<g id="lynch-2003" class="n lgreen"><circle cx="383" cy="525" r="5"/><text x="378" y="523" font-size="15">lynch (2003)</text></g>
<g id="bhadeshia-2012" class="n yellow"><circle cx="497" cy="554" r="17"/><text x="499" y="556" font-size="21.6">bhadeshia (2012)</text></g>
<g id="lu-2005" class="n blue"><circle cx="737" cy="575" r="9"/><text x="740" y="573" font-size="17.5">lu (2005)</text></g>
<g id="marchi-2010" class="n pink"><circle cx="629" cy="586" r="7"/><text x="624" y="587" font-size="15.5">marchi (2010)</text></g>
<g id="zerbst-2016" class="n lgreen"><circle cx="425" cy="650" r="5"/><text x="426" y="644" font-size="15.5">zerbst (2016)</text></g>
<g id="zheng-2012" class="n blue"><circle cx="628" cy="650" r="12"/><text x="616" y="659" font-size="19">zheng (2012)</text></g>
<g id="murakami-1999" class="n lgreen"><circle cx="398" cy="720" r="14"/><text x="397" y="737" font-size="20.5">murakami (1999)</text></g>
<g id="paglieri-2002" class="n pale"><circle cx="1482" cy="284" r="18"/><text x="1469" y="291" font-size="22.5">paglieri (2002)</text></g>
</g>
</g>
</svg>
